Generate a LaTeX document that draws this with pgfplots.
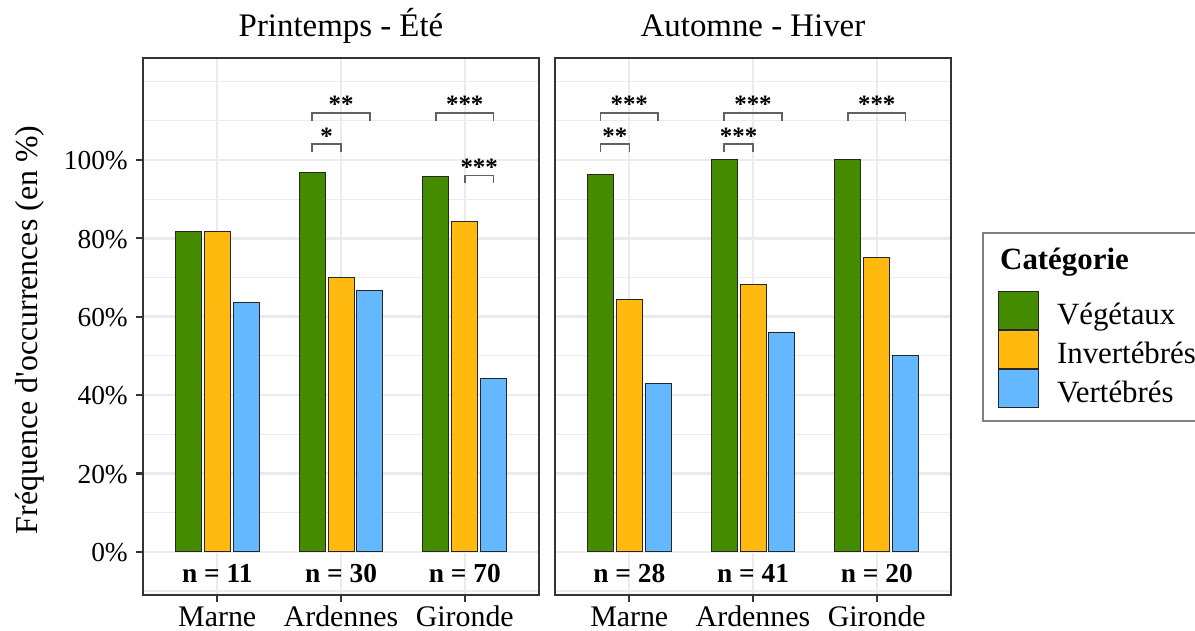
\documentclass[border=0pt]{standalone}
\usepackage{fontspec}
\setmainfont{Liberation Serif}[Ligatures=TeXOff]
\usepackage{pgfplots}
\pgfplotsset{compat=1.18}
\definecolor{veg}{HTML}{458B00}
\definecolor{inv}{HTML}{FFB90F}
\definecolor{vert}{HTML}{63B8FF}
\definecolor{gridc}{HTML}{EBEBEB}
\definecolor{framec}{HTML}{333333}
\tikzset{
  sigstar/.style={anchor=base, inner sep=0pt, font=\fontsize{25}{29}\selectfont\bfseries},
  nlab/.style={anchor=base, inner sep=0pt, font=\fontsize{27.5}{33}\selectfont\bfseries},
}
\pgfplotsset{
  panel/.style={
    scale only axis, width=396bp, height=537bp,
    xmin=0.4, xmax=3.6, ymin=-11, ymax=126,
    xtick={1,2,3}, xticklabels={Marne,Ardennes,Gironde},
    ytick={0,20,40,60,80,100},
    minor ytick={-10,10,30,50,70,90,110,120},
    xmajorgrids, ymajorgrids, yminorgrids,
    major grid style={draw=gridc, line width=2.4bp},
    minor grid style={draw=gridc, line width=1.2bp},
    axis line style={draw=framec, line width=2.4bp},
    tick align=outside, major tick length=7bp, minor tick length=0pt,
    major tick style={draw=framec, line width=2.2bp},
    tick pos=left,
    xticklabel style={font=\fontsize{30}{36}\selectfont, anchor=base, inner sep=0pt, yshift=-24.5bp},
    yticklabel style={font=\fontsize{27.5}{33}\selectfont, anchor=base east, inner sep=0pt, xshift=-8bp, yshift=-9.7bp},
    title style={font=\fontsize{33}{40}\selectfont, at={(0.5,1)}, anchor=base, inner sep=0pt, yshift=16bp},
    clip=false,
  },
  mybar/.style={ybar, bar width=0.21, bar shift=0pt, draw=black!85, line width=0.9bp,
    legend image code/.code={\draw[##1, line width=0.9bp] (0bp,-19bp) rectangle (40bp,19bp);}},
  bracket/.style={draw=black!62, line width=1.5bp, mark=none, forget plot},
}
\begin{document}
\begin{tikzpicture}
\useasboundingbox (0,0) rectangle (1195bp,631bp);
% Panel 1
\begin{axis}[panel, at={(143bp,36bp)}, anchor=south west,
  title={Printemps - Été},
  yticklabels={0\%,20\%,40\%,60\%,80\%,100\%}]
\addplot[mybar, fill=veg]  coordinates {(0.7667,81.8) (1.7667,96.7) (2.7667,95.7)};
\addplot[mybar, fill=inv]  coordinates {(1,81.8) (2,70.0) (3,84.3)};
\addplot[mybar, fill=vert] coordinates {(1.2333,63.6) (2.2333,66.7) (3.2333,44.3)};
\addplot[bracket] coordinates {(1.7667,102) (1.7667,104) (2,104) (2,102)};
\addplot[bracket] coordinates {(1.7667,110) (1.7667,112) (2.2333,112) (2.2333,110)};
\addplot[bracket] coordinates {(2.7667,110) (2.7667,112) (3.2333,112) (3.2333,110)};
\addplot[bracket] coordinates {(3,94) (3,96) (3.2333,96) (3.2333,94)};
\node[sigstar] at (axis cs:1.8833,104) {*};
\node[sigstar] at (axis cs:2,112) {**};
\node[sigstar] at (axis cs:3,112) {***};
\node[sigstar] at (axis cs:3.1167,96) {***};
\node[nlab] at (axis cs:1,-7.7) {n = 11};
\node[nlab] at (axis cs:2,-7.7) {n = 30};
\node[nlab] at (axis cs:3,-7.7) {n = 70};
\end{axis}
% Panel 2
\begin{axis}[panel, at={(555bp,36bp)}, anchor=south west,
  title={Automne - Hiver},
  yticklabels={}, ytick style={draw=none},
  legend style={at={(1.119,0.566)}, anchor=north west, draw=none, fill=none,
    inner sep=0pt, outer sep=0pt, row sep=0pt, column sep=18bp,
    font=\fontsize{31}{37}\selectfont, nodes={inner sep=0pt}},
  legend cell align=left]
\addplot[mybar, fill=veg]  coordinates {(0.7667,96.4) (1.7667,100) (2.7667,100)};
\addlegendentry{\rule[-9bp]{0pt}{38bp}Végétaux}
\addplot[mybar, fill=inv]  coordinates {(1,64.3) (2,68.3) (3,75.0)};
\addlegendentry{\rule[-9bp]{0pt}{38bp}Invertébrés}
\addplot[mybar, fill=vert] coordinates {(1.2333,42.9) (2.2333,56.1) (3.2333,50.0)};
\addlegendentry{\rule[-9bp]{0pt}{38bp}Vertébrés}
\addplot[bracket] coordinates {(0.7667,102) (0.7667,104) (1,104) (1,102)};
\addplot[bracket] coordinates {(0.7667,110) (0.7667,112) (1.2333,112) (1.2333,110)};
\addplot[bracket] coordinates {(1.7667,102) (1.7667,104) (2,104) (2,102)};
\addplot[bracket] coordinates {(1.7667,110) (1.7667,112) (2.2333,112) (2.2333,110)};
\addplot[bracket] coordinates {(2.7667,110) (2.7667,112) (3.2333,112) (3.2333,110)};
\node[sigstar] at (axis cs:0.8833,104) {**};
\node[sigstar] at (axis cs:1,112) {***};
\node[sigstar] at (axis cs:1.8833,104) {***};
\node[sigstar] at (axis cs:2,112) {***};
\node[sigstar] at (axis cs:3,112) {***};
\node[nlab] at (axis cs:1,-7.7) {n = 28};
\node[nlab] at (axis cs:2,-7.7) {n = 41};
\node[nlab] at (axis cs:3,-7.7) {n = 20};
\end{axis}
\node[rotate=90, anchor=base, inner sep=0pt, font=\fontsize{32}{38}\selectfont] at (37bp,301bp) {Fréquence d'occurrences (en \%)};
\draw[draw=black!50, line width=1.3bp] (983bp,210bp) rectangle (1215bp,398bp);
\node[anchor=base west, inner sep=0pt, font=\fontsize{31}{37}\selectfont\bfseries] at (1000bp,361bp) {Catégorie};
\end{tikzpicture}
\end{document}
